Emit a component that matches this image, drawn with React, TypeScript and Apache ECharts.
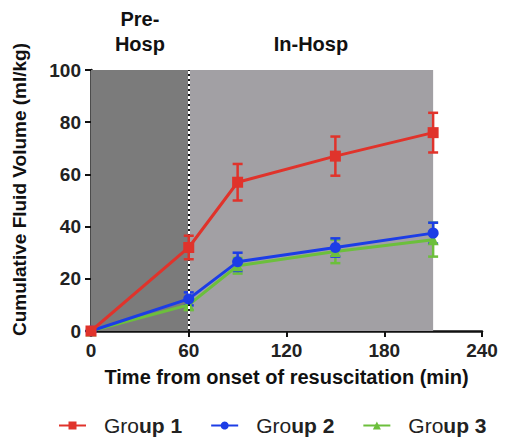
import React, { useEffect, useRef } from "react";
import * as echarts from "echarts";

const times = [0, 60, 90, 150, 210];
const xTicks = [0, 60, 120, 180, 240];
const yTicks = [0, 20, 40, 60, 80, 100];
const group1Mean = [0, 32, 57, 67, 76];
const group1Err = [0, 4.5, 7, 7.5, 7.6];
const group2Mean = [0, 12.3, 26.5, 32, 37.5];
const group2Err = [0, 2.5, 3.5, 3.5, 4];
const group3Mean = [0, 10, 25, 30.5, 35];
const group3Err = [0, 2, 3, 4.5, 6.5];
const seriesNames = ["Group 1", "Group 2", "Group 3"];
const colors = ["#e0332b", "#1c3de6", "#6cbf3c"];
const symbols = ["rect", "circle", "triangle"];
const phaseBounds = [0, 60, 210];
const phaseNames = ["Pre-\nHosp", "In-Hosp"];

const means = [group1Mean, group2Mean, group3Mean];
const errs = [group1Err, group2Err, group3Err];

export default function App() {
  const ref = useRef<HTMLDivElement>(null);
  useEffect(() => {
    if (!ref.current) return;
    const chart = echarts.init(ref.current, null, { renderer: "svg" });
    const font = "Arial, 'Liberation Sans', sans-serif";

    const errorSeries = means.map((m, gi) => ({
      type: "custom",
      name: seriesNames[gi] + " err",
      silent: true,
      z: 3 + (2 - gi),
      data: times.map((t, i) => [t, m[i] - errs[gi][i], m[i] + errs[gi][i]]),
      renderItem: (params: any, api: any) => {
        const x = api.value(0);
        const lo = api.coord([x, api.value(1)]);
        const hi = api.coord([x, api.value(2)]);
        const w = 5;
        const style = { stroke: colors[gi], lineWidth: 2.5 };
        if (Math.abs(lo[1] - hi[1]) < 1) return { type: "group", children: [] };
        return {
          type: "group",
          children: [
            { type: "line", shape: { x1: lo[0], y1: lo[1], x2: hi[0], y2: hi[1] }, style },
            { type: "line", shape: { x1: lo[0] - w, y1: lo[1], x2: lo[0] + w, y2: lo[1] }, style },
            { type: "line", shape: { x1: hi[0] - w, y1: hi[1], x2: hi[0] + w, y2: hi[1] }, style },
          ],
        };
      },
    }));

    const lineSeries = means.map((m, gi) => ({
      type: "line",
      name: seriesNames[gi],
      data: times.map((t, i) => [t, m[i]]),
      symbol: symbols[gi],
      symbolSize: 11,
      z: 4 + (2 - gi),
      itemStyle: { color: colors[gi] },
      lineStyle: { color: colors[gi], width: 3 },
    }));

    const headerLabel = {
      show: true,
      position: "top",
      distance: 14,
      fontFamily: font,
      fontWeight: "bold",
      fontSize: 20,
      lineHeight: 25,
      color: "#111",
    };

    const bgSeries = {
      type: "line",
      name: "bg",
      data: [],
      silent: true,
      z: 1,
      markArea: {
        silent: true,
        data: [
          [
            {
              xAxis: phaseBounds[0],
              yAxis: 0,
              itemStyle: { color: "#7b7b7b" },
              label: { ...headerLabel, formatter: phaseNames[0] },
            },
            { xAxis: phaseBounds[1], yAxis: 100 },
          ],
          [
            {
              xAxis: phaseBounds[1],
              yAxis: 0,
              itemStyle: { color: "#a2a0a4" },
              label: { ...headerLabel, formatter: phaseNames[1] },
            },
            { xAxis: phaseBounds[2], yAxis: 100 },
          ],
        ],
      },
      markLine: {
        silent: true,
        symbol: "none",
        label: { show: false },
        data: [
          { xAxis: phaseBounds[1], lineStyle: { color: "#ffffff", width: 2, type: "solid" } },
          { xAxis: phaseBounds[1], lineStyle: { color: "#111111", width: 2, type: [2, 3] } },
        ],
      },
    };

    const legendRich = {
      s: { width: 13 },
      n: { fontFamily: font, fontSize: 21, color: "#222" },
      b: { fontFamily: font, fontSize: 21, color: "#222", fontWeight: "bold" },
    };

    chart.setOption({
      animation: false,
      backgroundColor: "#ffffff",
      grid: { left: 83, right: 16, top: 62, bottom: 112, containLabel: false, outerBoundsMode: "none" },
      legend: {
        data: seriesNames,
        top: 407,
        left: 50,
        width: 470,
        padding: 0,
        itemWidth: 27,
        itemHeight: 10,
        itemGap: 28,
        formatter: (name: string) => "{s|}{n|Gro}{b|" + name.slice(3) + "}",
        textStyle: { rich: legendRich },
      },
      xAxis: {
        type: "value",
        min: xTicks[0],
        max: xTicks[xTicks.length - 1],
        interval: 60,
        name: "Time from onset of resuscitation (min)",
        nameLocation: "middle",
        nameGap: 36,
        nameTextStyle: { fontFamily: font, fontWeight: "bold", fontSize: 20, color: "#111" },
        axisLine: { lineStyle: { color: "#111", width: 2.5 } },
        axisTick: { show: true, length: 6, lineStyle: { color: "#111", width: 2 } },
        axisLabel: { fontFamily: font, fontWeight: "bold", fontSize: 19, color: "#222", margin: 10 },
        splitLine: { show: false },
      },
      yAxis: {
        type: "value",
        min: yTicks[0],
        max: yTicks[yTicks.length - 1],
        interval: 20,
        name: "Cumulative Fluid Volume (ml/kg)",
        nameLocation: "middle",
        nameGap: 62,
        nameTextStyle: { fontFamily: font, fontWeight: "bold", fontSize: 19, color: "#111", padding: [0, 0, 0, 22] },
        axisLine: { show: true, lineStyle: { color: "#111", width: 2.5 } },
        axisTick: { show: true, length: 6, lineStyle: { color: "#111", width: 2 } },
        axisLabel: { fontFamily: font, fontWeight: "bold", fontSize: 19, color: "#222", margin: 10 },
        splitLine: { show: false },
      },
      series: [bgSeries, ...errorSeries, ...lineSeries],
    });
    return () => chart.dispose();
  }, []);
  return <div ref={ref} style={{ width: 490, height: 435 }} />;
}
